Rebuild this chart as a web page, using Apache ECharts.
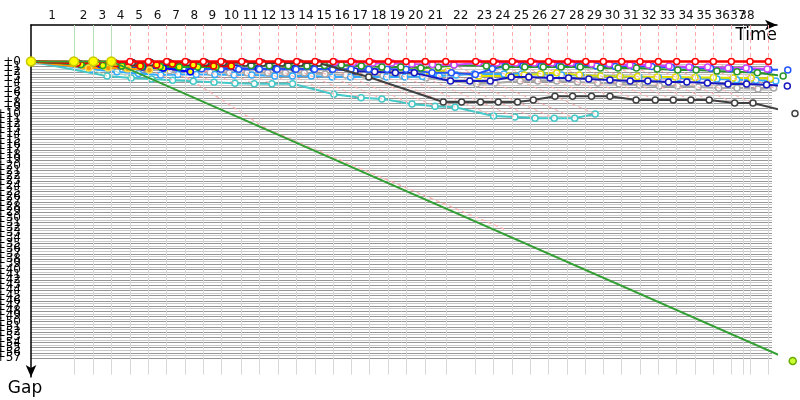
<!DOCTYPE html>
<html><head><meta charset="utf-8">
<script src="https://cdn.jsdelivr.net/npm/echarts@6/dist/echarts.min.js"></script>
<style>html,body{margin:0;padding:0;background:#fff}#c{width:800px;height:400px}</style>
</head><body><div id="c"></div>
<script>
// Leader crossing time at the end of each lap (laps 1..38)
const lapEnd = [3.63,5.27,6.79,8.37,9.92,11.47,13.04,14.57,16.06,17.81,19.30,20.90,22.46,24.01,25.55,27.05,28.60,30.20,31.70,33.33,35.06,37.59,39.08,40.68,42.24,43.75,45.37,46.89,48.38,49.93,51.48,53.03,54.58,56.15,57.68,59.20,60.78,62.33];
const lapLabelPos = [1.78,4.45,6.03,7.58,9.14,10.69,12.26,13.80,15.32,16.94,18.55,20.10,21.68,23.24,24.78,26.31,27.83,29.40,30.96,32.52,34.19,36.32,38.33,39.88,41.46,42.99,44.56,46.13,47.63,49.15,50.71,52.25,53.80,55.37,56.91,58.44,59.76,60.52];
const lapLabels = ['1','2','3','4','5','6','7','8','9','10','11','12','13','14','15','16','17','18','19','20','21','22','23','24','25','26','27','28','29','30','31','32','33','34','35','36','37','38'];
const lapLeader = ['green','green','green','red','red','red','red','red','red','red','red','red','red','red','red','red','red','red','red','red','red','red','red','red','red','red','red','red','red','red','red','red','red','red','red','red','red','red'];
const extraTimeLine = [60.19];
const gapLabelMax = 57;

// Gap (per lap) of each car
const gapsRed = [0.05,0.05,0.05,0,0,0,0,0,0,0,0,0,0,0,0,0,0,0,0,0,0,0,0,0,0,0,0,0,0,0,0,0,0,0,0,0,0,0];
const gapsBlack = [0.3,0.3,0.3,0.2,0.2,0.2,0.2,0.2,0.2,0.3,0.3,0.3,0.3,0.3,3.0,7.8,7.8,7.8,7.8,7.8,7.4,6.7,6.7,6.7,6.7,7.4,7.4,7.4,7.4,7.4,8.0,8.0,10.0];
const gapsGreen = [0,0,0];
const greenEnd = {lap: 3, gap: 57.6};
const gapsCyan = [2.8,3.2,3.4,3.6,3.8,4.0,4.2,4.3,4.3,4.3,6.3,7.0,7.2,8.2,8.6,8.8,10.5,10.7,10.9,10.9,10.9,10.1];
const gapsViolet = [0.4,0.4,0.3,0.2,0.1,0.1,0.1,0.1,0.1,0.1,0.1,0.1,0.1,0.15,0.15,0.2,0.3,0.3,0.5,0.6,0.7,0.25,0.3,0.3,0.3,0.3,0.3,0.5,0.5,0.7,0.7,0.9,1.05,1.05,1.25,1.25,1.45];
const gapsDarkGreen = [0.5,0.6,0.7,0.8,0.8,0.8,0.8,0.8,0.8,0.8,0.85,0.85,0.87,0.8,0.68,0.87,1.06,1.06,1.25,1.1,0.68,0.9,1.06,1.06,1.06,1.06,1.06,1.25,1.25,1.25,1.45,1.64,1.64,1.83,2.0,2.2,2.8];
const gapsBlue = [0.6,0.8,1.0,1.2,1.3,1.4,1.4,1.5,1.5,1.5,1.5,1.5,1.5,1.5,1.5,1.5,1.5,1.5,2.2,2.2,2.5,1.4,1.0,0.9,0.9,0.9,0.9,0.9,1.0,1.0,1.0,1.1,1.2,1.3,1.4,1.5,1.6,1.64];
const gapsNavy = [0.5,0.7,0.9,1.0,1.1,1.2,1.2,1.3,1.3,1.4,1.4,1.4,1.45,1.45,1.83,2.0,2.2,2.2,3.76,3.76,3.76,3.0,3.0,3.2,3.2,3.4,3.57,3.76,3.76,3.96,3.96,4.15,4.34,4.34,4.5,4.73];
const gapsYellow = [0.8,1.0,1.2,1.3,1.4,1.4,1.4,1.5,1.5,1.5,1.5,1.5,1.5,1.5,1.5,1.6,1.6,1.7,1.8,1.9,2.8,2.8,2.6,2.4,2.2,2.6,2.8,2.9,2.9,3.0,3.0,3.1,3.1,3.2,3.2,3.3];
const gapsSky = [1.5,2.0,2.3,2.6,2.5,2.5,2.5,2.6,2.6,2.8,2.8,2.8,3.0,3.0,3.0,3.0,3.0,2.9,2.8,2.6,2.4,2.4,2.4,2.5,2.6,2.7,2.8,2.9,3.0,3.1,3.2,3.3,3.4,3.5,3.6,3.76];
const gapsGray = [0.8,1.0,1.3,1.6,1.8,2.0,2.1,2.2,2.2,2.2,2.2,2.2,2.4,2.6,2.6,2.7,2.8,3.2,3.7,4.34,4.15,3.76,3.76,3.76,3.96,4.15,4.34,4.54,4.73,4.73,4.92,5.1,5.1,5.3,5.1];
const gapsOlive = [0.6,0.8,0.9,0.9,0.9,0.9,0.9,0.9,0.9,0.87,0.87,1.25,1.45,1.5,1.5,1.6,1.7,1.8,2.0,2.2];
const gapsPink = [0.7,0.9,1.1,1.2,1.3,1.4,1.5,1.5,1.5,1.5,1.5,1.5,1.5,1.5,1.5,1.6,1.6,1.7,1.8,2.0,2.4];
const gapsOrange = [1.25,1.25,1.4,1.64];
const gapsRedYellow = [0.3,0.3,0.4,0.87,0.7,0.48,0.68,0.87,0.87];
const gapsGreenYellow = [0.6,0.8,0.9,1.0,1.0,1.06,1.06,1.06];
const gapsBlueYellow = [0.5,0.6,0.8,1.06,1.25,2.0];
// Dashed trace of a lapped car (time, gap)
const lappedTraceTime = [12.6, 19.95, 40.07];
const lappedTraceGap = [2.2, 13.0, 32.3];

const FONT = 'DejaVu Sans';
const chart = echarts.init(document.getElementById('c'), null, {renderer: 'canvas'});

function carSeries(name, gaps, color, fill, border, width, size, z, extra, showStart) {
  const data = [showStart ? [0, 0] : {value: [0, 0], symbol: 'none'}];
  gaps.forEach((g, i) => { if (g != null) data.push([lapEnd[i] + g, g]); });
  if (extra) data.push(extra);
  return {
    name, type: 'line', data, z, clip: false, animation: false,
    symbol: 'circle', symbolSize: size, showSymbol: true,
    lineStyle: {color, width},
    itemStyle: {color: fill, borderColor: border, borderWidth: 1.5},
    emphasis: {disabled: true}
  };
}

// Lap lines: vertical above the axis, vertical grid lines below, and diagonals
const allGaps = [gapsRed,gapsBlack,gapsGreen,gapsCyan,gapsViolet,gapsDarkGreen,gapsBlue,gapsNavy,gapsYellow,gapsSky,gapsGray,gapsOlive,gapsPink,gapsOrange,gapsRedYellow,gapsGreenYellow,gapsBlueYellow];
const upperLines = [], lowerLines = [], diagLines = [];
lapEnd.forEach((t, i) => {
  const c = lapLeader[i] === 'red' ? '#ffaaaa' : '#b8e0b8';
  const dash = lapLeader[i] === 'red' ? [4, 3] : 'solid';
  upperLines.push([{coord: [t, -7], lineStyle: {color: c, type: dash}}, {coord: [t, 0]}]);
  lowerLines.push([{coord: [t, 0]}, {coord: [t, 60.2]}]);
  let gmax = 0;
  allGaps.forEach(a => { if (a[i] != null && a[i] > gmax) gmax = a[i]; });
  if (gmax > 0) diagLines.push([{coord: [t, 0], lineStyle: {color: c, type: dash}}, {coord: [t + gmax, gmax]}]);
});
extraTimeLine.forEach(t => lowerLines.push([{coord: [t, -7]}, {coord: [t, 60.2]}]));

const unit = 346 / 66.5;
const yMin = -7, yMax = -7 + 352 / unit;
const xMax = 746 / 11.83;
const series = [
  {type: 'line', data: [], z: 1, silent: true, animation: false,
   markLine: {silent: true, symbol: 'none', animation: false, label: {show: false},
     lineStyle: {color: '#d8d8d8', width: 1, type: 'solid'}, data: lowerLines}},
  {type: 'line', data: [], z: 1, silent: true, animation: false,
   markLine: {silent: true, symbol: 'none', animation: false, label: {show: false},
     lineStyle: {color: '#ffaaaa', width: 1}, data: upperLines.concat(diagLines)}},
  {name: 'LappedTrace', type: 'line', z: 2, silent: true, animation: false, symbol: 'none',
   data: lappedTraceTime.map((t, i) => [t, lappedTraceGap[i]]),
   lineStyle: {color: '#ffaaaa', width: 1.2, type: [4, 3]}},
  carSeries('Cyan', gapsCyan, '#44c8c8', '#fff', '#44c8c8', 2, 6, 4),
  carSeries('Gray', gapsGray, '#a8a8a8', '#fff', '#a8a8a8', 2, 6, 4),
  carSeries('Olive', gapsOlive, '#aaaa55', '#fff', '#aaaa55', 2, 6, 4),
  carSeries('Pink', gapsPink, '#ff88bb', '#fff', '#ff88bb', 2, 6, 4),
  carSeries('Sky', gapsSky, '#33aaff', '#fff', '#33aaff', 2, 6, 4),
  carSeries('Yellow', gapsYellow, '#dddd00', '#fff', '#dddd00', 2, 6, 4),
  carSeries('Navy', gapsNavy, '#1818c0', '#fff', '#1818c0', 2, 6, 5),
  carSeries('Blue', gapsBlue, '#2255ff', '#fff', '#2255ff', 2, 6, 5),
  carSeries('DarkGreen', gapsDarkGreen, '#2a962a', '#fff', '#2a962a', 2, 6, 5),
  carSeries('Violet', gapsViolet, '#cc44ff', '#fff', '#cc44ff', 2, 6, 5),
  carSeries('Black', gapsBlack, '#404040', '#fff', '#404040', 2, 6, 6),
  carSeries('Orange', gapsOrange, '#ff9900', '#ff9900', '#ffdd44', 2, 6, 6),
  carSeries('BlueYellow', gapsBlueYellow, '#0000ff', '#ffff00', '#0000ff', 2, 6, 6),
  carSeries('GreenYellow', gapsGreenYellow, '#22aa22', '#ffff00', '#22aa22', 2, 6, 6),
  carSeries('RedYellow', gapsRedYellow, '#ee0000', '#ffff00', '#ee0000', 2.5, 6, 6),
  carSeries('Red', gapsRed, '#ff0000', '#fff', '#ff0000', 2.5, 6, 7),
  carSeries('Green', gapsGreen, '#33a033', '#ffff00', '#c8c800', 2, 9, 8,
    {value: [lapEnd[greenEnd.lap - 1] + greenEnd.gap, greenEnd.gap], symbolSize: 7, itemStyle: {color: '#ccff33', borderColor: '#66aa00'}}, true)
];

const lapLabelFmt = v => { const i = lapLabelPos.indexOf(v); return i >= 0 ? lapLabels[i] : ''; };
const topLabelStyle = {hideOverlap: false, showMinLabel: true, showMaxLabel: true,
  margin: 3, fontFamily: FONT, fontSize: 12, color: '#111', formatter: lapLabelFmt};

chart.setOption({
  backgroundColor: '#fff',
  animation: false,
  grid: [
    {left: 31, right: 23, top: 25, bottom: 23, outerBoundsMode: 'none', containLabel: false},
    {left: 31, right: 28, top: 25 + 7 * unit, bottom: 400 - (25 + (7 + gapLabelMax) * unit), outerBoundsMode: 'none', containLabel: false}
  ],
  xAxis: [
    {gridIndex: 0, type: 'value', position: 'top', min: 0, max: xMax,
     name: 'Time', nameLocation: 'end', nameGap: 0,
     nameTextStyle: {fontFamily: FONT, fontSize: 17, color: '#000', align: 'right', verticalAlign: 'top', padding: [2, 0, 0, 0]},
     axisLine: {show: true, onZero: false, lineStyle: {color: '#000', width: 1.5}, symbol: ['none', 'arrow'], symbolSize: [8, 12]},
     axisTick: {show: false}, splitLine: {show: false},
     axisLabel: Object.assign({customValues: lapLabelPos.slice(0, 37)}, topLabelStyle)},
    {gridIndex: 1, type: 'value', min: 0, max: 62.64, show: false},
    {gridIndex: 0, type: 'value', position: 'top', min: 0, max: xMax,
     axisLine: {show: false, onZero: false}, axisTick: {show: false}, splitLine: {show: false},
     axisLabel: Object.assign({customValues: lapLabelPos.slice(37)}, topLabelStyle)}
  ],
  yAxis: [
    {gridIndex: 0, type: 'value', inverse: true, min: yMin, max: yMax, interval: 1,
     name: 'Gap', nameLocation: 'end', nameGap: 3,
     nameTextStyle: {fontFamily: FONT, fontSize: 17, color: '#000', align: 'center', verticalAlign: 'top', padding: [0, 12, 0, 0]},
     axisLine: {show: true, onZero: false, lineStyle: {color: '#000', width: 1.5}, symbol: ['arrow', 'none'], symbolSize: [8, 12]},
     axisTick: {show: false}, splitLine: {show: false},
     axisLabel: {margin: 10, fontFamily: FONT, fontSize: 12, color: '#000', hideOverlap: false,
       formatter: v => (v >= 0 && v <= gapLabelMax && Math.abs(v - Math.round(v)) < 1e-6) ? '+' + Math.round(v) : ''}},
    {gridIndex: 1, type: 'value', inverse: true, min: 0, max: gapLabelMax, interval: 1,
     axisLine: {show: false}, axisTick: {show: false}, axisLabel: {show: false},
     splitLine: {show: true, lineStyle: {color: '#959595', width: 1}},
     minorTick: {show: false, splitNumber: 2},
     minorSplitLine: {show: true, lineStyle: {color: '#c8c8c8', width: 1}}}
  ],
  series: series.map(s => Object.assign({xAxisIndex: 0, yAxisIndex: 0}, s))
});
</script></body></html>
